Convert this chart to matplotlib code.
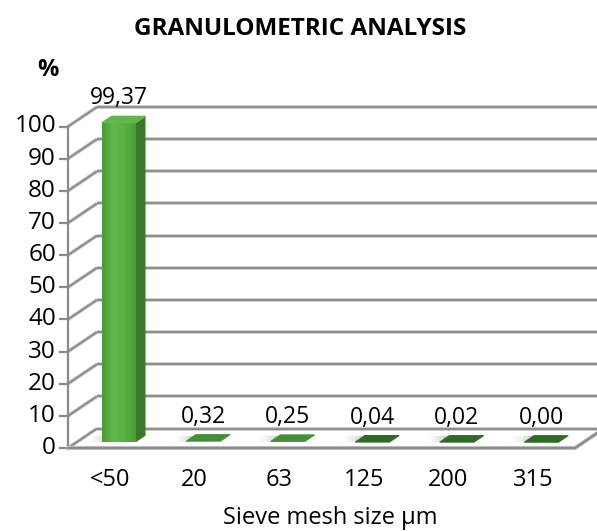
import numpy as np
import matplotlib
matplotlib.use('Agg')
import matplotlib.pyplot as plt
from matplotlib.patches import Polygon
from matplotlib.colors import LinearSegmentedColormap

# ---- data ----
categories = ['<50', '20', '63', '125', '200', '315']
values = [99.37, 0.32, 0.25, 0.04, 0.02, 0.00]
yticks = list(range(0, 101, 10))
title = 'GRANULOMETRIC ANALYSIS'
xlabel = 'Sieve mesh size µm'
ylabel = '%'

FONT = ['Open Sans', 'DejaVu Sans']
plt.rcParams['font.family'] = FONT

W, H = 597, 531
fig = plt.figure(figsize=(W / 100, H / 100), dpi=100)
ax = fig.add_axes([0, 0, 1, 1])

# pixel scale of the chart (front plane)
PXX = 84.5     # px per category
PXY = 3.215    # px per percent
x_left_px = 68
y0_px = 448
ax.set_xlim(-0.5 - x_left_px / PXX, -0.5 + (W - x_left_px) / PXX)
ax.set_ylim(-(H - y0_px) / PXY, y0_px / PXY)
ax.axis('off')

# oblique depth projection
DX = 29 / PXX
DY = 19.5 / PXY


def P(x, v, z):
    return (x + z * DX, v + z * DY)


n = len(categories)
xmin, xmax = -0.5, n - 0.5
grid_dark = '#8a8a8a'
grid_light = '#c4c4c4'


def gline(p1, p2, z=1):
    xs = [p1[0], p2[0]]
    ys = [p1[1], p2[1]]
    ax.plot(xs, ys, color=grid_light, lw=2.6, solid_capstyle='butt', zorder=z)
    ax.plot(xs, ys, color=grid_dark, lw=1.3, solid_capstyle='butt', zorder=z + 0.1)


# back wall gridlines and side-wall diagonals
for v in yticks:
    gline(P(xmin, v, 1), P(xmax, v, 1))
    gline(P(xmin, v, 0), P(xmin, v, 1))
    # tick mark
    ax.plot([xmin - 8 / PXX, xmin], [v, v], color=grid_dark, lw=1.6, zorder=2)
    ax.text(xmin - 12 / PXX, v, str(v), ha='right', va='center', fontsize=17.5,
            color='black')

# front vertical axis
ax.plot([xmin, xmin], [0, max(yticks)], color=grid_dark, lw=1.6, zorder=2)

# floor front edge and right edge
fl = [P(xmin, 0, 0), P(xmax, 0, 0), P(xmax, 0, 1)]
ax.plot([p[0] for p in fl], [p[1] for p in fl], color=grid_light, lw=3.0,
        solid_joinstyle='miter', zorder=2)
ax.plot([p[0] for p in fl], [p[1] for p in fl], color=grid_dark, lw=1.6,
        solid_joinstyle='miter', zorder=2.1)

# bars
w = 34 / PXX
z0, z1 = 0.30, 0.63
front_cmap = LinearSegmentedColormap.from_list(
    'front', ['#4a9a35', '#62b84b', '#5ab243', '#4b9c36'])
shadow_cmap = LinearSegmentedColormap.from_list(
    'shadow', [(1, 1, 1, 0), (0.5, 0.5, 0.5, 0.7)])
top_colors = ['#62b44b', '#468f36', '#468f36', '#2f6a27', '#2f6a27', '#2f6a27']
side_color = '#3a782b'

for i, v in enumerate(values):
    xl, xr = i - w / 2, i + w / 2
    # soft shadow to the left of the base
    sh = Polygon([P(xl - 0.2, 0, z0), P(xl + 0.05, 0, z0), P(xl + 0.05, 0, z1),
                  P(xl - 0.2, 0, z1)], closed=True, facecolor='none',
                 edgecolor='none')
    ax.add_patch(sh)
    (sx0, sy0), (sx1, sy1) = P(xl - 0.2, 0, z0), P(xl + 0.05, 0, z1)
    im = ax.imshow(np.linspace(0, 1, 50).reshape(1, -1), cmap=shadow_cmap,
                   extent=[sx0, sx1, sy0, sy1], aspect='auto',
                   zorder=3, interpolation='bilinear')
    im.set_clip_path(sh)

    front = [P(xl, 0, z0), P(xr, 0, z0), P(xr, v, z0), P(xl, v, z0)]
    side = [P(xr, 0, z0), P(xr, 0, z1), P(xr, v, z1), P(xr, v, z0)]
    top = [P(xl, v, z0), P(xr, v, z0), P(xr, v, z1), P(xl, v, z1)]
    if v > 1:
        fp = Polygon(front, closed=True, facecolor='none', edgecolor='none')
        ax.add_patch(fp)
        (fx0, fy0), (fx1, fy1) = front[0], front[2]
        im = ax.imshow(np.linspace(0, 1, 64).reshape(1, -1), cmap=front_cmap,
                       extent=[fx0, fx1, fy0, fy1], aspect='auto', zorder=4,
                       interpolation='bilinear')
        im.set_clip_path(fp)
        ax.add_patch(Polygon(side, closed=True, facecolor=side_color,
                             edgecolor='none', zorder=4))
    ax.add_patch(Polygon(top, closed=True, facecolor=top_colors[i],
                         edgecolor=top_colors[i], lw=0.8, zorder=5,
                         joinstyle='round'))
    # data label
    lx = i + z0 * DX
    ly = v + z1 * DY + 12 / PXY
    ax.text(lx, ly, f'{v:.2f}'.replace('.', ','), ha='center', va='baseline',
            fontsize=16.5, color='black', zorder=6)
    # category label
    ax.text(i, -38 / PXY, categories[i], ha='center', va='baseline',
            fontsize=17, color='black')

ax.set_xlim(-0.5 - x_left_px / PXX, -0.5 + (W - x_left_px) / PXX)
ax.set_ylim(-(H - y0_px) / PXY, y0_px / PXY)

fig.text(300 / W, 1 - 35 / H, title, ha='center', va='baseline',
         fontsize=17.5, fontweight='bold')
fig.text(48 / W, 1 - 76 / H, ylabel, ha='center', va='baseline',
         fontsize=17, fontweight='bold')
fig.text(330 / W, 1 - 524 / H, xlabel, ha='center', va='baseline', fontsize=17)

fig.savefig('out.png', dpi=100)
